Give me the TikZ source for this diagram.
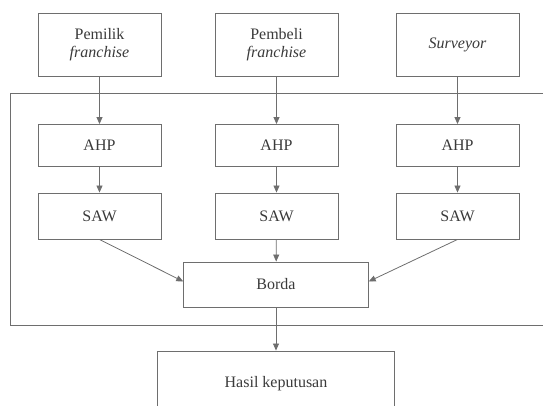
\documentclass[tikz,border=0pt]{standalone}
\usepackage{fontspec}
\setmainfont{Liberation Serif}
\usetikzlibrary{arrows.meta}
\definecolor{linegray}{HTML}{6E6E6E}
\definecolor{textgray}{HTML}{3A3A3A}

\begin{document}
\begin{tikzpicture}[x=1pt,y=-1pt,
    box/.style={draw=linegray, line width=0.9pt, text=textgray, align=center,
        font=\fontsize{16}{18}\selectfont, inner sep=0pt},
    arr/.style={draw=linegray, line width=0.8pt, -{Triangle[width=6pt,length=7pt]}}]
        \useasboundingbox (0,0) rectangle (543,405);
        %%%FRAME%%%
        \draw[draw=linegray, line width=0.9pt] (10,93) rectangle (548,325);
        %top boxes
        \node[box, minimum width=123pt, minimum height=63pt] (pemilik) at (99.5,44.5) {Pemilik\\\textit{franchise}};
        \node[box, minimum width=123pt, minimum height=63pt] (pembeli) at (276.5,44.5) {Pembeli\\\textit{franchise}};
        \node[box, minimum width=123pt, minimum height=63pt] (surveyor) at (457.5,44.5) {\textit{Surveyor}};
        %AHP boxes
        \node[box, minimum width=123pt, minimum height=42pt] (ahpA) at (99.5,145.5) {AHP};
        \node[box, minimum width=123pt, minimum height=42pt] (ahpB) at (276.5,145.5) {AHP};
        \node[box, minimum width=123pt, minimum height=42pt] (ahpC) at (457.5,145.5) {AHP};
        %SAW boxes
        \node[box, minimum width=123pt, minimum height=46pt] (sawA) at (99.5,216) {SAW};
        \node[box, minimum width=123pt, minimum height=46pt] (sawB) at (276.5,216) {SAW};
        \node[box, minimum width=123pt, minimum height=46pt] (sawC) at (457.5,216) {SAW};
        %borda and result
        \node[box, minimum width=184.5pt, minimum height=45pt] (borda) at (276,284.5) {Borda};
        \node[box, minimum width=237.5pt, minimum height=66pt] (hasil) at (276,384) {Hasil keputusan};
        %arrows
        \draw[arr] (pemilik) -- (ahpA);
        \draw[arr] (pembeli) -- (ahpB);
        \draw[arr] (surveyor) -- (ahpC);
        \draw[arr] (ahpA) -- (sawA);
        \draw[arr] (ahpB) -- (sawB);
        \draw[arr] (ahpC) -- (sawC);
        \draw[arr] (sawA.south) -- ([yshift=3pt]borda.west);
        \draw[arr] (sawB) -- (borda);
        \draw[arr] (sawC.south) -- ([yshift=3pt]borda.east);
        \draw[arr] (borda) -- (hasil);
\end{tikzpicture}
\end{document}
